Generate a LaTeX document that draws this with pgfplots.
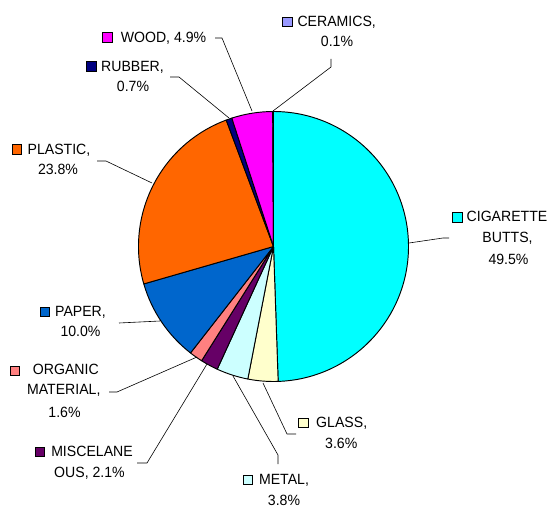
\documentclass[border=0pt]{standalone}
\usepackage{fontspec}
\setmainfont{Liberation Sans}[FakeStretch=0.95]
\usepackage{pgfplots}
\pgfplotsset{compat=1.18}

\definecolor{cCig}{HTML}{00FFFF}
\definecolor{cGlass}{HTML}{FFFFCC}
\definecolor{cMetal}{HTML}{CCFFFF}
\definecolor{cMisc}{HTML}{660066}
\definecolor{cOrg}{HTML}{FF8080}
\definecolor{cPaper}{HTML}{0066CC}
\definecolor{cPlastic}{HTML}{FF6600}
\definecolor{cRubber}{HTML}{000080}
\definecolor{cWood}{HTML}{FF00FF}
\definecolor{cCeram}{HTML}{9999FF}

% label line: x centre, baseline (image px), text
\newcommand{\lab}[3]{\node[anchor=base, inner sep=0pt] at (axis cs:#1,#2) {#3};}
% legend key square: centre x, y, colour
\newcommand{\key}[3]{\node[draw=black, fill=#3, line width=0.8pt, minimum size=9.5bp, inner sep=0pt] at (axis cs:#1,#2) {};}

\begin{document}
\begin{tikzpicture}[font=\fontsize{14.9}{17}\selectfont]
\begin{axis}[
    width=552bp, height=507bp, scale only axis,
    xmin=0, xmax=552, ymin=0, ymax=507, y dir=reverse,
    hide axis, clip=false,
]
% pie slices, clockwise from 12 o'clock (percentages)
\def\startang{90}
\foreach \v/\c in {49.5/cCig, 3.6/cGlass, 3.8/cMetal, 2.1/cMisc, 1.6/cOrg,
                   10.0/cPaper, 23.8/cPlastic, 0.7/cRubber, 4.9/cWood, 0.1/cCeram}{
  \pgfmathsetmacro\endang{\startang - \v/100.1*360}
  \edef\slice{\noexpand\filldraw[fill=\c, draw=black, line width=0.95pt, line join=round]
    (axis cs:273.5,246.5) -- ++(\startang:135bp)
    arc[start angle=\startang, end angle=\endang, radius=135bp] -- cycle;}
  \slice
  \global\let\startang\endang
}

% leader lines
\draw[line width=0.6pt] (axis cs:215,38) -- (axis cs:222,38) -- (axis cs:252,111);
\draw[line width=0.6pt] (axis cs:170,77) -- (axis cs:179,77) -- (axis cs:229,118);
\draw[line width=0.6pt] (axis cs:97,161) -- (axis cs:106,161) -- (axis cs:152,183);
\draw[line width=0.6pt] (axis cs:331,59) -- (axis cs:331,67) -- (axis cs:273,111);
\draw[line width=0.6pt] (axis cs:449,238) -- (axis cs:443,238) -- (axis cs:409,243);
\draw[line width=0.6pt] (axis cs:119,323) -- (axis cs:160,321);
\draw[line width=0.6pt] (axis cs:109,392) -- (axis cs:117,392) -- (axis cs:197,357);
\draw[line width=0.6pt] (axis cs:137,463) -- (axis cs:147,463) -- (axis cs:207,364);
\draw[line width=0.6pt] (axis cs:278,464) -- (axis cs:278,455) -- (axis cs:233,376);
\draw[line width=0.6pt] (axis cs:296,434) -- (axis cs:287,434) -- (axis cs:263,383);

% labels
\key{107.5}{37.5}{cWood}    \lab{163.5}{42.4}{WOOD, 4.9\%}
\key{91.5}{66.5}{cRubber}   \lab{132.5}{71.4}{RUBBER,}  \lab{133}{91.4}{0.7\%}
\key{17}{149.5}{cPlastic}   \lab{59}{154.4}{PLASTIC,}   \lab{58}{174.4}{23.8\%}
\key{287.3}{22}{cCeram}     \lab{336.7}{26.4}{CERAMICS,} \lab{337}{46.4}{0.1\%}
\key{457.5}{217.5}{cCig}    \lab{507}{221.4}{CIGARETTE} \lab{507.5}{242.9}{BUTTS,} \lab{508.5}{264.4}{49.5\%}
\key{44.7}{311.7}{cPaper}   \lab{80.5}{316.4}{PAPER,}   \lab{80.5}{336.4}{10.0\%}
\key{14.7}{370.7}{cOrg}     \lab{65.8}{374.4}{ORGANIC}  \lab{63.8}{394.9}{MATERIAL,} \lab{64.5}{417.1}{1.6\%}
\key{39.7}{452}{cMisc}      \lab{92}{456.4}{MISCELANE}  \lab{89.5}{477.9}{OUS, 2.1\%}
\key{248}{480}{cMetal}      \lab{284}{484.4}{METAL,}    \lab{284}{505.2}{3.8\%}
\key{303.3}{422.8}{cGlass}  \lab{341.7}{427.4}{GLASS,}  \lab{341.3}{448.4}{3.6\%}
\end{axis}
\path (current axis.south west) rectangle (current axis.north east);
\end{tikzpicture}
\end{document}
